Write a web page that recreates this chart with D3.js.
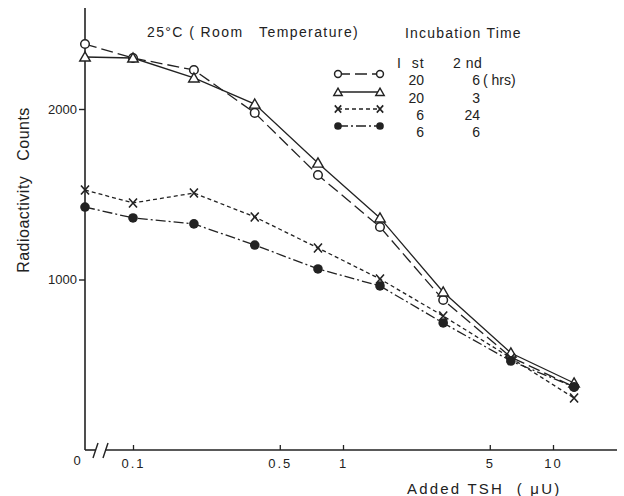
<!DOCTYPE html>
<html>
<head>
<meta charset="utf-8">
<script src="https://cdn.jsdelivr.net/npm/d3@7"></script>
<style>
  body { margin: 0; background: #fff; }
  text { font-family: "Liberation Sans", Arial, sans-serif; fill: #222; }
</style>
</head>
<body>
<div id="chart"></div>
<script>
// data (0 = no TSH added, drawn on the y axis)
var doses = [0, 0.1, 0.195, 0.38, 0.76, 1.5, 3.0, 6.3, 12.6];
var open20x6 = [2381, 2299, 2229, 1977, 1613, 1308, 880, 545, 370];
var tri20x3 = [2305, 2299, 2182, 2029, 1683, 1361, 927, 569, 393];
var cross6x24 = [1525, 1449, 1507, 1367, 1185, 1003, 786, 540, 305];
var dot6x6 = [1425, 1361, 1326, 1202, 1062, 962, 745, 522, 370];
var firstHrs = ["20", "20", "6", "6"];
var secondHrs = ["6", "3", "24", "6"];
var xTicks = [0.1, 0.5, 1, 5, 10];
var xTickLabels = ["0.1", "0.5", "1", "5", "10"];
var yTicks = [1000, 2000];

var svgWidth = 624, svgHeight = 496;
var ink = "#222";

var svg = d3.select("#chart").append("svg")
  .attr("width", svgWidth)
  .attr("height", svgHeight);

// axis corner
var x0 = 85, yBase = 450, xEnd = 617, yTop = 8;

var xScale = d3.scaleLog().domain([0.1, 10]).range([133, 553]);
var yScale = d3.scaleLinear().domain([0, 2000]).range([yBase, 109]);

function xPos(d) { return d === 0 ? x0 : xScale(d); }

// y axis
svg.append("line")
  .attr("x1", x0).attr("x2", x0)
  .attr("y1", yTop).attr("y2", yBase)
  .attr("stroke", ink).attr("stroke-width", 1.6);

var yAxis = d3.axisLeft(yScale).tickValues(yTicks).tickSize(6).tickFormat(d3.format("d"));
var yg = svg.append("g").attr("transform", `translate(${x0},0)`).call(yAxis);
yg.select(".domain").remove();
yg.selectAll("line").attr("stroke", ink).attr("stroke-width", 1.4);
yg.selectAll("text").attr("font-size", 13).attr("fill", ink)
  .style("font-family", "Liberation Sans, Arial, sans-serif").attr("x", -8);

// x axis with a break near the origin
svg.append("line")
  .attr("x1", x0).attr("x2", 96).attr("y1", yBase).attr("y2", yBase)
  .attr("stroke", ink).attr("stroke-width", 1.6);
svg.append("line")
  .attr("x1", 105).attr("x2", xEnd).attr("y1", yBase).attr("y2", yBase)
  .attr("stroke", ink).attr("stroke-width", 1.6);
[93, 103].forEach(function(bx) {
  svg.append("line")
    .attr("x1", bx).attr("y1", 458).attr("x2", bx + 5).attr("y2", 443)
    .attr("stroke", ink).attr("stroke-width", 1.4);
});

var xAxis = d3.axisBottom(xScale).tickValues(xTicks).tickSizeInner(-5).tickSizeOuter(0)
  .tickFormat(function(d, i) { return xTickLabels[i]; });
var xg = svg.append("g").attr("transform", `translate(0,${yBase})`).call(xAxis);
xg.select(".domain").remove();
xg.selectAll("line").attr("stroke", ink).attr("stroke-width", 1.3);
xg.selectAll("text").attr("font-size", 13).attr("fill", ink).attr("y", 9)
  .style("font-family", "Liberation Sans, Arial, sans-serif")
  .style("letter-spacing", "2px");

svg.append("text").attr("x", 77).attr("y", 465)
  .attr("text-anchor", "middle").attr("font-size", 13).text("0");

// axis titles
svg.append("text")
  .attr("transform", "translate(29,190) rotate(-90)")
  .attr("text-anchor", "middle").attr("font-size", 16)
  .style("letter-spacing", "0.5px")
  .attr("xml:space", "preserve")
  .text("Radioactivity   Counts");

svg.append("text")
  .attr("x", 407).attr("y", 494).attr("font-size", 15)
  .style("letter-spacing", "2.2px")
  .attr("xml:space", "preserve")
  .text("Added TSH  ( \u03bcU)");

svg.append("text")
  .attr("x", 147).attr("y", 37).attr("font-size", 14)
  .style("letter-spacing", "1.4px")
  .attr("xml:space", "preserve")
  .text("25\u00b0C ( Room   Temperature)");

svg.append("text")
  .attr("x", 405).attr("y", 38).attr("font-size", 14)
  .style("letter-spacing", "1.2px")
  .text("Incubation Time");

// series
var series = [
  { vals: open20x6, dash: "12,5", marker: "open" },
  { vals: tri20x3, dash: null, marker: "tri" },
  { vals: cross6x24, dash: "4,3", marker: "cross" },
  { vals: dot6x6, dash: "10,3,2,3", marker: "dot" }
];

var line = d3.line()
  .x(function(d) { return xPos(d.x); })
  .y(function(d) { return yScale(d.y); });

function drawMarker(g, kind, cx, cy, k) {
  k = k || 1;
  if (kind === "open") {
    g.append("circle").attr("cx", cx).attr("cy", cy).attr("r", 4.3 * k)
      .attr("fill", "#fff").attr("stroke", ink).attr("stroke-width", 1.5);
  } else if (kind === "dot") {
    g.append("circle").attr("cx", cx).attr("cy", cy).attr("r", 4.8 * k)
      .attr("fill", ink);
  } else if (kind === "tri") {
    g.append("path")
      .attr("d", d3.symbol().type(d3.symbolTriangle).size(48 * k * k)())
      .attr("transform", `translate(${cx},${cy + 1})`)
      .attr("fill", "#fff").attr("stroke", ink).attr("stroke-width", 1.4);
  } else {
    var a = 4 * k, b = 4.5 * k;
    g.append("path")
      .attr("d", `M${cx - a},${cy - b}L${cx + a},${cy + b}M${cx + a},${cy - b}L${cx - a},${cy + b}`)
      .attr("stroke", ink).attr("stroke-width", 1.6).attr("fill", "none");
  }
}

series.forEach(function(s) {
  var pts = doses.map(function(d, i) { return { x: d, y: s.vals[i] }; });
  svg.append("path")
    .datum(pts)
    .attr("d", line)
    .attr("fill", "none")
    .attr("stroke", ink)
    .attr("stroke-width", 1.3)
    .attr("stroke-dasharray", s.dash);
  var g = svg.append("g");
  pts.forEach(function(p) { drawMarker(g, s.marker, xPos(p.x), yScale(p.y)); });
});

// legend
svg.append("text").attr("x", 397).attr("y", 68).attr("font-size", 14)
  .style("letter-spacing", "1px")
  .attr("xml:space", "preserve").text("I  st");
svg.append("text").attr("x", 453).attr("y", 68).attr("font-size", 14)
  .style("letter-spacing", "0.5px").text("2 nd");

var legRows = [74, 92, 109, 126];
series.forEach(function(s, i) {
  var ly = legRows[i];
  svg.append("line")
    .attr("x1", 338).attr("x2", 380).attr("y1", ly).attr("y2", ly)
    .attr("stroke", ink).attr("stroke-width", 1.3)
    .attr("stroke-dasharray", s.dash);
  var g = svg.append("g");
  drawMarker(g, s.marker, 338, ly, 0.8);
  drawMarker(g, s.marker, 380, ly, 0.8);
  svg.append("text").attr("x", 424).attr("y", ly + 11)
    .attr("text-anchor", "end").attr("font-size", 14).text(firstHrs[i]);
  svg.append("text").attr("x", 480).attr("y", ly + 11)
    .attr("text-anchor", "end").attr("font-size", 14).text(secondHrs[i]);
});
svg.append("text").attr("x", 483).attr("y", legRows[0] + 11)
  .attr("font-size", 14).text("( hrs)");
</script>
</body>
</html>
